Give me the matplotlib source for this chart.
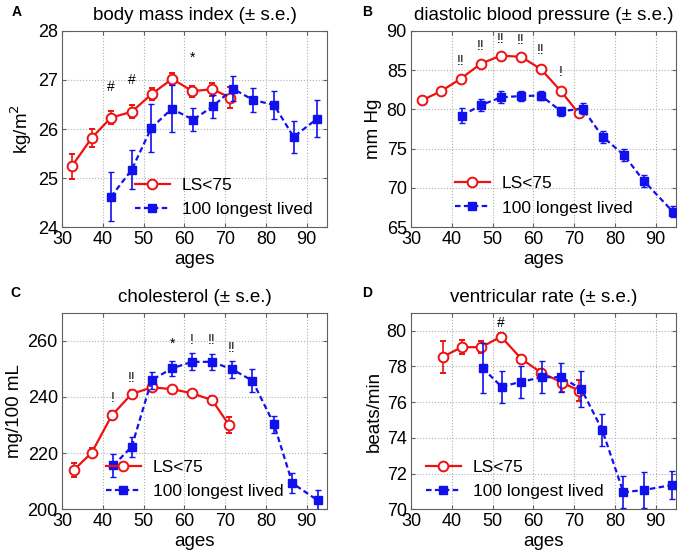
import numpy as np
import matplotlib
matplotlib.use("Agg")
import matplotlib.pyplot as plt
from matplotlib.lines import Line2D

# fuente parecida a Arial
plt.rcParams['font.family'] = ['Liberation Sans', 'DejaVu Sans']

# DATOS

# A: indice de masa corporal
ls_age_A = [32.4, 37.3, 42.0, 47.1, 52.0, 57.0, 62.0, 66.9, 71.2]
ls_A = [25.24, 25.82, 26.23, 26.35, 26.71, 27.02, 26.77, 26.81, 26.64]
ls_A_se = [0.25, 0.18, 0.13, 0.13, 0.12, 0.12, 0.11, 0.13, 0.22]
ll_age_A = [42.0, 47.1, 51.9, 56.9, 62.2, 67.0, 71.9, 76.9, 82.0, 86.8, 92.6]
ll_A = [24.62, 25.17, 26.02, 26.41, 26.19, 26.46, 26.82, 26.59, 26.49, 25.84, 26.21]
ll_A_se = [0.50, 0.40, 0.48, 0.48, 0.23, 0.24, 0.25, 0.25, 0.28, 0.33, 0.38]
marks_A = [(42.0, 26.86, '#'), (47.1, 26.99, '#'), (62.1, 27.45, '*')]

# B: presion diastolica
ls_age_B = [32.8, 37.3, 42.2, 47.1, 52.0, 57.0, 61.9, 66.8, 71.1]
ls_B = [81.18, 82.29, 83.89, 85.80, 86.82, 86.69, 85.10, 82.30, 79.50]
ls_B_se = [0.3, 0.3, 0.3, 0.3, 0.3, 0.3, 0.3, 0.3, 0.4]
ll_age_B = [42.5, 47.2, 52.1, 57.0, 61.9, 66.8, 72.1, 77.0, 82.2, 87.1, 94.2]
ll_B = [79.2, 80.55, 81.53, 81.69, 81.75, 79.75, 80.1, 76.52, 74.2, 70.9, 67.0]
ll_B_se = [1.0, 0.8, 0.75, 0.6, 0.6, 0.6, 0.7, 0.75, 0.75, 0.75, 0.7]
marks_B = [(42.2, 86.2, '!!'), (47.1, 88.0, '!!'), (52.0, 88.9, '!!'),
           (57.0, 88.8, '!!'), (61.9, 87.5, '!!'), (66.8, 84.7, '!')]

# C: colesterol
ls_age_C = [33.0, 37.3, 42.2, 47.1, 52.1, 57.0, 61.9, 66.8, 71.0]
ls_C = [214.1, 220.2, 233.4, 241.1, 243.4, 242.8, 241.3, 238.9, 230.0]
ls_C_se = [2.5, 1.5, 1.5, 1.2, 1.2, 1.2, 1.2, 1.5, 3.0]
ll_age_C = [42.6, 47.1, 52.0, 57.0, 61.9, 66.8, 71.8, 76.7, 82.0, 86.5, 92.7]
ll_C = [215.6, 222.3, 246.0, 250.2, 252.5, 252.5, 249.8, 245.8, 230.3, 209.3, 203.2]
ll_C_se = [4.2, 3.6, 3.0, 2.6, 3.0, 2.8, 3.0, 4.0, 3.0, 3.5, 3.5]
marks_C = [(42.4, 239.5, '!'), (47.0, 246.9, '!!'), (57.0, 259.1, '*'),
           (61.9, 260.2, '!'), (66.8, 260.2, '!!'), (71.6, 257.3, '!!')]

# D: frecuencia ventricular
ls_age_D = [37.9, 42.4, 47.2, 52.1, 57.1, 61.9, 67.1, 71.2]
ls_D = [78.54, 79.07, 79.07, 79.66, 78.41, 77.65, 77.09, 76.64]
ls_D_se = [0.9, 0.4, 0.35, 0.2, 0.2, 0.2, 0.5, 0.6]
ll_age_D = [47.6, 52.2, 57.1, 62.2, 66.9, 71.8, 76.9, 82.1, 87.1, 94.1]
ll_D = [77.89, 76.86, 77.14, 77.39, 77.39, 76.72, 74.44, 70.95, 71.08, 71.36]
ll_D_se = [1.4, 0.9, 0.9, 0.9, 0.8, 1.0, 0.9, 0.9, 1.0, 0.8]
marks_D = [(52.1, 80.45, '#')]

titles = ['body mass index (\u00b1 s.e.)', 'diastolic blood pressure (\u00b1 s.e.)',
          'cholesterol (\u00b1 s.e.)', 'ventricular rate (\u00b1 s.e.)']
ylabels = ['kg/m$^2$', 'mm Hg', 'mg/100 mL', 'beats/min']
letters = ['A', 'B', 'C', 'D']

RED = '#ee1111'
BLUE = '#1111ee'
W, H = 679.0, 559.0

red_style = dict(color=RED, lw=1.6, marker='o', ms=7, mfc='white',
                 mec=RED, mew=1.4)
blue_style = dict(color=BLUE, lw=1.6, ls='--', dashes=(2.5, 1.5),
                  marker='s', ms=6, mfc=BLUE, mec=BLUE)


def panel(ax, x1, y1, e1, x2, y2, e2, marks, ylim, yticks, title, ylabel, leg_xy):
    """Dibuja un panel con las dos curvas y sus errores"""
    ax.errorbar(x1, y1, yerr=e1, capsize=2.5, elinewidth=1.2, zorder=3,
                **red_style)
    ax.errorbar(x2, y2, yerr=e2, capsize=2.5, elinewidth=1.2, zorder=4,
                **blue_style)
    for (xm, ym, t) in marks:
        ax.text(xm, ym, t, ha='center', va='center', fontsize=10)
    ax.set_xlim(30, 95)
    ax.set_ylim(ylim)
    ax.set_xticks(np.arange(30, 91, 10))
    ax.set_yticks(yticks)
    ax.grid(True, ls=':', color='#b0b0b0', lw=0.8)
    ax.tick_params(direction='in', length=3, top=True, right=True,
                   labelsize=13, pad=3, color='#606060')
    for s in ax.spines.values():
        s.set_color('#606060')
    ax.set_title(title, fontsize=13.5, pad=8)
    ax.set_xlabel('ages', fontsize=13.5, labelpad=2)
    ax.set_ylabel(ylabel, fontsize=13.5, labelpad=3)
    # leyenda solo con linea y marcador
    handles = [Line2D([], [], **red_style), Line2D([], [], **blue_style)]
    ax.legend(handles, ['LS<75', '100 longest lived'], loc='lower left',
              bbox_to_anchor=leg_xy, frameon=False, fontsize=12.5,
              handlelength=2.0, handletextpad=0.7, labelspacing=0.55,
              borderpad=0, borderaxespad=0, numpoints=1)


fig = plt.figure(figsize=(6.79, 5.59), dpi=100)

lefts = [62, 411, 62, 411]
bottoms = [227.3, 227.3, 509.3, 509.3]
axes = []
for i in range(4):
    ax = fig.add_axes([lefts[i] / W, 1 - bottoms[i] / H, 265 / W, 196.6 / H])
    axes.append(ax)

panel(axes[0], ls_age_A, ls_A, ls_A_se, ll_age_A, ll_A, ll_A_se, marks_A,
      (24, 28), [24, 25, 26, 27, 28], titles[0], ylabels[0], (0.275, 0.05))
panel(axes[1], ls_age_B, ls_B, ls_B_se, ll_age_B, ll_B, ll_B_se, marks_B,
      (65, 90), [65, 70, 75, 80, 85, 90], titles[1], ylabels[1], (0.166, 0.06))
panel(axes[2], ls_age_C, ls_C, ls_C_se, ll_age_C, ll_C, ll_C_se, marks_C,
      (200, 270), [200, 220, 240, 260], titles[2], ylabels[2], (0.166, 0.05))
panel(axes[3], ls_age_D, ls_D, ls_D_se, ll_age_D, ll_D, ll_D_se, marks_D,
      (70, 81), [70, 72, 74, 76, 78, 80], titles[3], ylabels[3], (0.057, 0.05))

# letras de los paneles
letter_pos = [(17, 12), (367, 12), (15, 293), (367, 293)]
for i in range(4):
    fig.text(letter_pos[i][0] / W, 1 - letter_pos[i][1] / H, letters[i],
             fontsize=10, fontweight='bold', ha='center', va='center')

plt.savefig('out.png', dpi=100)
